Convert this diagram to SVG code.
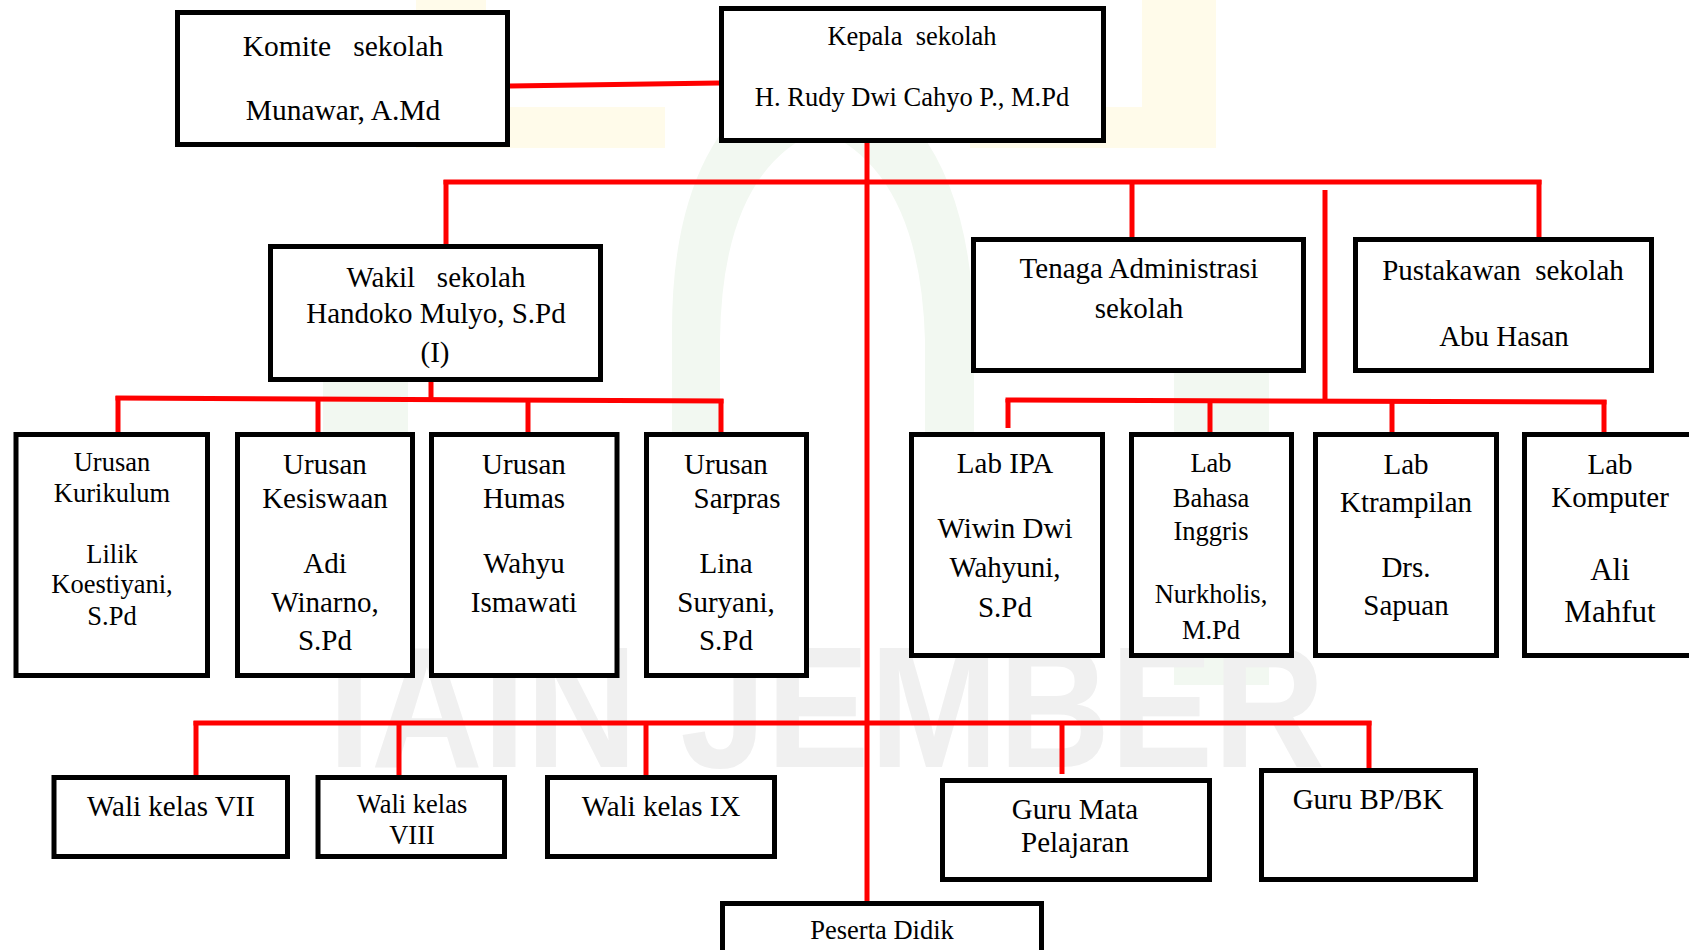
<svg xmlns="http://www.w3.org/2000/svg" width="1689" height="950" viewBox="0 0 1689 950">
<style>
.box{fill:#ffffff;stroke:#000000;stroke-width:5}
.t{font-family:"Liberation Serif","Times New Roman",serif;fill:#000000;text-anchor:middle;white-space:pre}
.a{font-size:29px}
.b{font-size:26.5px}
.c{font-size:31px}
.k{font-size:29.5px}
.conn line,.conn polyline{stroke:#ff0000;stroke-width:5;fill:none}
.wm{font-family:"Liberation Sans",Arial,sans-serif;font-weight:bold;fill:#f0f0f0}
.lg{fill:#f2f8f1}
.ly{fill:#fffbea}
</style>
<rect width="1689" height="950" fill="#ffffff"/>
<g id="watermark">
<path class="ly" d="M416 0 H486 V107 H665 V148 H416 Z"/>
<path class="ly" d="M1142 0 H1216 V148 H970 V107 H1142 Z"/>
<path class="lg" d="M672 640 V330 Q672 110 820 60 Q970 110 974 330 V640 H925 V340 Q920 170 820 130 Q722 170 720 340 V640 Z"/>
<rect class="lg" x="323" y="380" width="85" height="290"/>
<rect class="lg" x="1174" y="355" width="95" height="330"/>
<text class="wm" x="328" y="767" font-size="173" textLength="997" lengthAdjust="spacingAndGlyphs">IAIN JEMBER</text>
</g>
<g class="conn" id="connectors">
<line x1="510" y1="86" x2="719" y2="83"/>
<line x1="867" y1="143" x2="867" y2="902"/>
<line x1="443.5" y1="182" x2="1541.5" y2="182"/>
<line x1="446" y1="180" x2="446" y2="244"/>
<line x1="1132" y1="182" x2="1132" y2="238"/>
<line x1="1539" y1="180" x2="1539" y2="238"/>
<line x1="1325" y1="190" x2="1325" y2="401"/>
<line x1="1005.5" y1="400" x2="1606.5" y2="402"/>
<line x1="1008" y1="399" x2="1008" y2="428"/>
<line x1="1210" y1="401" x2="1210" y2="433"/>
<line x1="1392" y1="401" x2="1392" y2="433"/>
<line x1="1604" y1="400" x2="1604" y2="433"/>
<line x1="431" y1="382" x2="431" y2="399"/>
<line x1="115.5" y1="398" x2="723.5" y2="401"/>
<line x1="118" y1="396" x2="118" y2="433"/>
<line x1="318" y1="399" x2="318" y2="433"/>
<line x1="528" y1="400" x2="528" y2="433"/>
<line x1="721" y1="399" x2="721" y2="433"/>
<line x1="193.5" y1="723" x2="1371.5" y2="723"/>
<line x1="196" y1="721" x2="196" y2="777"/>
<line x1="399" y1="723" x2="399" y2="777"/>
<line x1="646" y1="723" x2="646" y2="777"/>
<line x1="1062" y1="725" x2="1062" y2="774"/>
<line x1="1369" y1="721" x2="1369" y2="770"/>
</g>
<g id="komite">
<rect class="box" x="177.5" y="12.5" width="330" height="132"/>
<text class="t k" x="343" y="56">Komite   sekolah</text>
<text class="t k" x="343" y="120">Munawar, A.Md</text>
</g>
<g id="kepala">
<rect class="box" x="721.5" y="8.5" width="382" height="132"/>
<text class="t b" x="912" y="45">Kepala  sekolah</text>
<text class="t b" x="912" y="106">H. Rudy Dwi Cahyo P., M.Pd</text>
</g>
<g id="wakil">
<rect class="box" x="270.5" y="246.5" width="330" height="133"/>
<text class="t a" x="436" y="287">Wakil   sekolah</text>
<text class="t a" x="436" y="323">Handoko Mulyo, S.Pd</text>
<text class="t a" x="435" y="362">(I)</text>
</g>
<g id="tenaga">
<rect class="box" x="973.5" y="239.5" width="330" height="131"/>
<text class="t a" x="1139" y="278">Tenaga Administrasi</text>
<text class="t a" x="1139" y="318">sekolah</text>
</g>
<g id="pustakawan">
<rect class="box" x="1355.5" y="239.5" width="296" height="131"/>
<text class="t a" x="1503" y="280">Pustakawan  sekolah</text>
<text class="t a" x="1504" y="346">Abu Hasan</text>
</g>
<g id="kurikulum">
<rect class="box" x="16" y="434.5" width="191.5" height="241"/>
<text class="t b" x="112" y="471">Urusan</text>
<text class="t b" x="112" y="502">Kurikulum</text>
<text class="t b" x="112" y="563">Lilik</text>
<text class="t b" x="112" y="593">Koestiyani,</text>
<text class="t b" x="112" y="625">S.Pd</text>
</g>
<g id="kesiswaan">
<rect class="box" x="237.5" y="434.5" width="175" height="241"/>
<text class="t a" x="325" y="474">Urusan</text>
<text class="t a" x="325" y="508">Kesiswaan</text>
<text class="t a" x="325" y="573">Adi</text>
<text class="t a" x="325" y="612">Winarno,</text>
<text class="t a" x="325" y="650">S.Pd</text>
</g>
<g id="humas">
<rect class="box" x="431.5" y="434.5" width="185.5" height="241"/>
<text class="t a" x="524" y="474">Urusan</text>
<text class="t a" x="524" y="508">Humas</text>
<text class="t a" x="524" y="573">Wahyu</text>
<text class="t a" x="524" y="612">Ismawati</text>
</g>
<g id="sarpras">
<rect class="box" x="646.5" y="434.5" width="160" height="241"/>
<text class="t a" x="726" y="474">Urusan</text>
<text class="t a" x="737" y="508">Sarpras</text>
<text class="t a" x="726" y="573">Lina</text>
<text class="t a" x="726" y="612">Suryani,</text>
<text class="t a" x="726" y="650">S.Pd</text>
</g>
<g id="lab-ipa">
<rect class="box" x="911.5" y="434.5" width="191" height="221"/>
<text class="t a" x="1005" y="473">Lab IPA</text>
<text class="t a" x="1005" y="538">Wiwin Dwi</text>
<text class="t a" x="1005" y="577">Wahyuni,</text>
<text class="t a" x="1005" y="617">S.Pd</text>
</g>
<g id="lab-bahasa">
<rect class="box" x="1131.5" y="434.5" width="160" height="221"/>
<text class="t b" x="1211" y="472">Lab</text>
<text class="t b" x="1211" y="507">Bahasa</text>
<text class="t b" x="1211" y="540">Inggris</text>
<text class="t b" x="1211" y="603">Nurkholis,</text>
<text class="t b" x="1211" y="639">M.Pd</text>
</g>
<g id="lab-ktrampilan">
<rect class="box" x="1315.5" y="434.5" width="181" height="221"/>
<text class="t a" x="1406" y="474">Lab</text>
<text class="t a" x="1406" y="512">Ktrampilan</text>
<text class="t a" x="1406" y="577">Drs.</text>
<text class="t a" x="1406" y="615">Sapuan</text>
</g>
<g id="lab-komputer">
<rect class="box" x="1524.5" y="434.5" width="180" height="221"/>
<text class="t a" x="1610" y="474">Lab</text>
<text class="t a" x="1610" y="507">Komputer</text>
<text class="t c" x="1610" y="580">Ali</text>
<text class="t c" x="1610" y="622">Mahfut</text>
</g>
<g id="wali-vii">
<rect class="box" x="54" y="777.5" width="233.5" height="79"/>
<text class="t a" x="171" y="816">Wali kelas VII</text>
</g>
<g id="wali-viii">
<rect class="box" x="318" y="777.5" width="186.5" height="79"/>
<text class="t b" x="412" y="813">Wali kelas</text>
<text class="t b" x="412" y="844">VIII</text>
</g>
<g id="wali-ix">
<rect class="box" x="547.5" y="777.5" width="227" height="79"/>
<text class="t a" x="661" y="816">Wali kelas IX</text>
</g>
<g id="guru-mapel">
<rect class="box" x="942.5" y="780.5" width="267" height="99"/>
<text class="t a" x="1075" y="819">Guru Mata</text>
<text class="t a" x="1075" y="852">Pelajaran</text>
</g>
<g id="guru-bk">
<rect class="box" x="1261.5" y="770.5" width="214" height="109"/>
<text class="t a" x="1368" y="809">Guru BP/BK</text>
</g>
<g id="peserta">
<rect class="box" x="722.5" y="903.5" width="319" height="60"/>
<text class="t b" x="882" y="939">Peserta Didik</text>
</g>
</svg>
